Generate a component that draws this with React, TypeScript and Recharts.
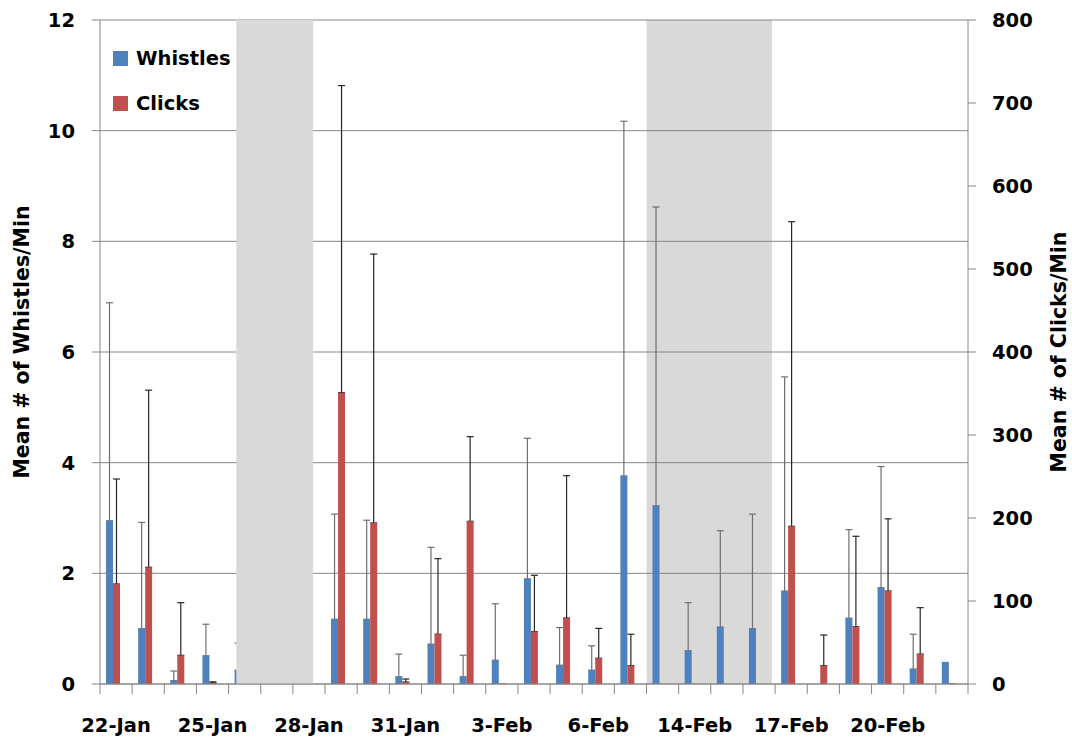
import React from 'react';
import {
  ComposedChart,
  Bar,
  XAxis,
  YAxis,
  CartesianGrid,
  ReferenceArea,
  ErrorBar,
  Legend,
} from 'recharts';

const categories = [
  '22-Jan', '23-Jan', '24-Jan', '25-Jan', '26-Jan', '27-Jan', '28-Jan', '29-Jan', '30-Jan',
  '31-Jan', '1-Feb', '2-Feb', '3-Feb', '4-Feb', '5-Feb', '6-Feb', '7-Feb', '13-Feb',
  '14-Feb', '15-Feb', '16-Feb', '17-Feb', '18-Feb', '19-Feb', '20-Feb', '21-Feb', '22-Feb',
];

const whistles: (number | null)[] = [
  2.95, 1.0, 0.06, 0.51, 0.25, null, null, 1.17, 1.17,
  0.13, 0.72, 0.13, 0.43, 1.9, 0.34, 0.25, 3.76, 3.22,
  0.6, 1.03, 1.0, 1.68, null, 1.19, 1.74, 0.27, 0.4,
];

const whistleUpper: (number | null)[] = [
  6.89, 2.92, 0.235, 1.08, 0.74, null, null, 3.07, 2.96,
  0.54, 2.47, 0.52, 1.45, 4.44, 1.02, 0.69, 10.17, 8.62,
  1.47, 2.77, 3.07, 5.55, null, 2.79, 3.93, 0.9, null,
];

const clicks: (number | null)[] = [
  120.5, 140.6, 34.5, 1.5, null, null, null, 351, 194,
  2.4, 60, 196, 1, 63, 79.5, 31, 22, null,
  null, null, null, 190, 22, 69, 112, 36, 1,
];

const clickUpper: (number | null)[] = [
  247, 354, 98, 2.6, null, null, null, 721, 518,
  6, 151, 298, null, 131, 251, 67, 60, null,
  null, null, null, 557, 59, 178, 199, 92, null,
];

// shaded periods: first/last category covered, and the covered fraction of those end categories
const shadedRanges = [
  { from: '26-Jan', to: '28-Jan', startFrac: 0.24, endFrac: 0.63, top: true },
  { from: '13-Feb', to: '16-Feb', startFrac: 0.0, endFrac: 0.9, top: false },
];

const seriesOrder = ['Whistles', 'Clicks'];
const leftTitle = 'Mean # of Whistles/Min';
const rightTitle = 'Mean # of Clicks/Min';
const leftTicks = [0, 2, 4, 6, 8, 10, 12];
const rightTicks = [0, 100, 200, 300, 400, 500, 600, 700, 800];
const labelEvery = 3;

const data = categories.map((date, i) => {
  const w = whistles[i];
  const wu = whistleUpper[i];
  const c = clicks[i];
  const cu = clickUpper[i];
  return {
    date,
    whistles: w,
    clicks: c,
    wErr: w != null && wu != null ? [0, wu - w] : null,
    cErr: c != null && cu != null ? [0, cu - c] : null,
  };
});

const FONT = '"DejaVu Sans", "Open Sans", sans-serif';
const GRAY = '#868686';
const FS = 19.5;
const TITLE_FS = 20.5;
const tickStyle = { fontSize: FS, fontWeight: 700, fill: '#000', fontFamily: FONT };
const X_TICK_SIZE = 10;
const X_TICK_MARGIN = 24;

const CategoryTick = (props: any) => {
  const { x, y, payload, index } = props;
  const half = payload && typeof payload.offset === 'number' ? payload.offset : 0;
  const lineTop = y - X_TICK_MARGIN - X_TICK_SIZE;
  const lineBottom = y - X_TICK_MARGIN;
  const isLast = index === categories.length - 1;
  return (
    <g>
      <line x1={x - half} x2={x - half} y1={lineTop} y2={lineBottom} stroke={GRAY} />
      {isLast && <line x1={x + half} x2={x + half} y1={lineTop} y2={lineBottom} stroke={GRAY} />}
      {index % labelEvery === 0 && (
        <text x={x} y={y} dy="0.71em" textAnchor="middle" {...tickStyle}>
          {payload.value}
        </text>
      )}
    </g>
  );
};

const makeTitle = (text: string, side: 'left' | 'right', inset: number, shiftY: number) => (props: any) => {
  const vb = props.viewBox || {};
  const x = side === 'left' ? vb.x + inset : vb.x + vb.width - inset;
  const y = vb.y + vb.height / 2 + shiftY;
  return (
    <text
      x={x}
      y={y}
      transform={`rotate(-90, ${x}, ${y})`}
      textAnchor="middle"
      dominantBaseline="central"
      style={{ fontSize: TITLE_FS, fontWeight: 700, fill: '#000', fontFamily: FONT }}
    >
      {text}
    </text>
  );
};

const makeShadeShape = (r: { from: string; to: string; startFrac: number; endFrac: number }) => (props: any) => {
  const { x, y, width, height } = props;
  const n = categories.indexOf(r.to) - categories.indexOf(r.from) + 1;
  const bw = width / n;
  const nx = x + r.startFrac * bw;
  const nw = width - r.startFrac * bw - (1 - r.endFrac) * bw;
  return <rect x={nx} y={y} width={nw} height={height} fill="#D9D9D9" stroke="none" />;
};

const renderLegend = (props: any) => {
  const items = (props.payload || [])
    .filter((p: any) => seriesOrder.includes(p.value))
    .sort((a: any, b: any) => seriesOrder.indexOf(a.value) - seriesOrder.indexOf(b.value));
  return (
    <div style={{ fontFamily: FONT, fontSize: FS, fontWeight: 700, color: '#000' }}>
      {items.map((it: any) => (
        <div key={it.value} style={{ display: 'flex', alignItems: 'center', height: 45 }}>
          <span
            style={{ display: 'inline-block', width: 15, height: 15, background: it.color, marginRight: 8 }}
          />
          <span>{it.value}</span>
        </div>
      ))}
    </div>
  );
};

export default function App() {
  return (
    <div style={{ position: 'absolute', left: 0, top: 0, width: 1072, height: 738, background: '#fff' }}>
      <ComposedChart
        width={1072}
        height={738}
        data={data}
        margin={{ top: 20, right: 10, bottom: 10, left: 10 }}
        barGap={0}
      >
        <XAxis
          xAxisId="cat"
          dataKey="date"
          interval={0}
          tickLine={false}
          tickSize={X_TICK_SIZE}
          tickMargin={X_TICK_MARGIN}
          axisLine={{ stroke: GRAY }}
          tick={<CategoryTick />}
          height={44}
        />
        <YAxis
          yAxisId="left"
          domain={[0, 12]}
          ticks={leftTicks}
          width={90}
          tickSize={8}
          tickMargin={17}
          axisLine={{ stroke: GRAY }}
          tickLine={{ stroke: GRAY }}
          tick={tickStyle}
          label={{ content: makeTitle(leftTitle, 'left', 12, -10) }}
        />
        <YAxis
          yAxisId="right"
          orientation="right"
          domain={[0, 800]}
          ticks={rightTicks}
          width={94}
          tickSize={8}
          tickMargin={16}
          axisLine={{ stroke: GRAY }}
          tickLine={{ stroke: GRAY }}
          tick={tickStyle}
          label={{ content: makeTitle(rightTitle, 'right', 3, 0) }}
        />
        {shadedRanges
          .filter((r) => !r.top)
          .map((r, i) => (
            <ReferenceArea
              key={'b' + i}
              xAxisId="cat"
              yAxisId="left"
              x1={r.from}
              x2={r.to}
              y1={0}
              y2={12}
              shape={makeShadeShape(r)}
              zIndex={-150}
            />
          ))}
        <CartesianGrid
          xAxisId="cat"
          yAxisId="left"
          vertical={false}
          stroke={GRAY}
          horizontalValues={leftTicks}
        />
        <Bar
          xAxisId="cat"
          yAxisId="left"
          dataKey="whistles"
          name="Whistles"
          fill="#4F81BD"
          barSize={7}
          isAnimationActive={false}
        >
          <ErrorBar dataKey="wErr" width={3.5} stroke="#6f6f6f" strokeWidth={1.2} direction="y" zIndex={250} />
        </Bar>
        <Bar
          xAxisId="cat"
          yAxisId="right"
          dataKey="clicks"
          name="Clicks"
          fill="#C0504D"
          barSize={7}
          isAnimationActive={false}
        >
          <ErrorBar dataKey="cErr" width={3.5} stroke="#262626" strokeWidth={1.2} direction="y" zIndex={250} />
        </Bar>
        <Bar
          xAxisId="cat"
          yAxisId="left"
          dataKey="pad"
          name="pad"
          legendType="none"
          fill="none"
          barSize={7}
          isAnimationActive={false}
        />
        {shadedRanges
          .filter((r) => r.top)
          .map((r, i) => (
            <ReferenceArea
              key={'t' + i}
              xAxisId="cat"
              yAxisId="left"
              x1={r.from}
              x2={r.to}
              y1={0}
              y2={12}
              shape={makeShadeShape(r)}
              zIndex={450}
            />
          ))}
        <Legend
          layout="vertical"
          align="center"
          verticalAlign="middle"
          wrapperStyle={{ position: 'absolute', left: 113, top: 36, width: 'auto', height: 'auto' }}
          content={renderLegend}
        />
      </ComposedChart>
    </div>
  );
}
